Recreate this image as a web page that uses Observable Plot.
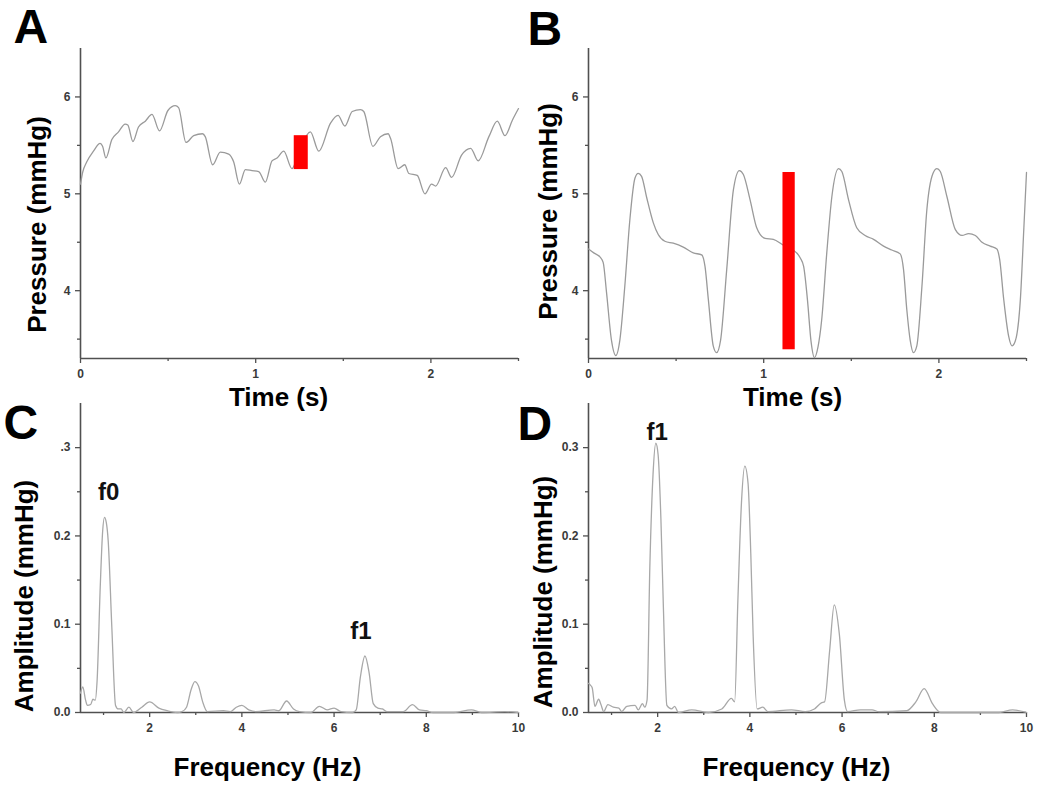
<!DOCTYPE html>
<html><head><meta charset="utf-8">
<script src="https://cdn.jsdelivr.net/npm/d3@7"></script>
<script src="https://cdn.jsdelivr.net/npm/@observablehq/plot@0.6"></script>
<style>
body{margin:0;background:#fff;}
#fig{position:relative;width:1050px;height:792px;overflow:hidden;background:#fff;}
#fig svg{position:absolute;}
</style></head><body><div id="fig"></div>
<script>
// ---------- Panel A: pressure vs time ----------
const timeA = [0, 0.012, 0.036, 0.074, 0.112, 0.126, 0.145, 0.179, 0.217, 0.255, 0.27, 0.299, 0.331, 0.37, 0.408, 0.451, 0.499, 0.541, 0.56, 0.602, 0.646, 0.697, 0.712, 0.754, 0.798, 0.846, 0.874, 0.907, 0.941, 0.979, 1.017, 1.055, 1.093, 1.122, 1.16, 1.207, 1.25, 1.312, 1.36, 1.427, 1.47, 1.509, 1.551, 1.598, 1.617, 1.669, 1.712, 1.756, 1.77, 1.813, 1.851, 1.874, 1.922, 1.966, 2.004, 2.027, 2.084, 2.118, 2.175, 2.227, 2.27, 2.331, 2.379, 2.423, 2.465, 2.5];
const pressureA = [5.10, 5.22, 5.33, 5.44, 5.52, 5.49, 5.37, 5.56, 5.64, 5.72, 5.71, 5.54, 5.69, 5.75, 5.82, 5.65, 5.86, 5.91, 5.89, 5.53, 5.60, 5.62, 5.59, 5.30, 5.43, 5.41, 5.33, 5.10, 5.25, 5.24, 5.23, 5.12, 5.34, 5.37, 5.44, 5.26, 5.45, 5.64, 5.44, 5.73, 5.81, 5.70, 5.85, 5.87, 5.85, 5.49, 5.59, 5.62, 5.57, 5.26, 5.30, 5.21, 5.19, 5.00, 5.10, 5.08, 5.27, 5.17, 5.40, 5.47, 5.34, 5.59, 5.75, 5.60, 5.76, 5.88];
const markerTimeA = [1.22, 1.30];
const markerPressureA = [5.25, 5.60];

// ---------- Panel B: pressure vs time ----------
const timeB = [0, 0.03, 0.065, 0.084, 0.103, 0.131, 0.156, 0.179, 0.207, 0.236, 0.265, 0.284, 0.303, 0.331, 0.37, 0.398, 0.436, 0.484, 0.541, 0.598, 0.646, 0.665, 0.684, 0.712, 0.731, 0.754, 0.789, 0.827, 0.861, 0.884, 0.922, 0.96, 1.008, 1.055, 1.113, 1.16, 1.208, 1.228, 1.25, 1.27, 1.29, 1.31, 1.331, 1.36, 1.389, 1.427, 1.446, 1.484, 1.531, 1.579, 1.627, 1.684, 1.731, 1.779, 1.798, 1.817, 1.836, 1.855, 1.874, 1.903, 1.931, 1.966, 1.989, 2.008, 2.046, 2.094, 2.132, 2.17, 2.208, 2.246, 2.293, 2.331, 2.347, 2.37, 2.398, 2.417, 2.436, 2.465, 2.485, 2.5];
const pressureB = [4.43, 4.39, 4.35, 4.29, 3.98, 3.49, 3.33, 3.49, 4.04, 4.73, 5.16, 5.21, 5.18, 4.97, 4.70, 4.58, 4.51, 4.49, 4.45, 4.39, 4.37, 4.25, 3.91, 3.43, 3.36, 3.49, 4.22, 5.04, 5.24, 5.20, 4.94, 4.65, 4.54, 4.53, 4.47, 4.43, 4.34, 4.25, 3.90, 3.48, 3.31, 3.42, 3.70, 4.39, 4.97, 5.26, 5.23, 4.94, 4.65, 4.57, 4.53, 4.46, 4.42, 4.38, 4.22, 3.80, 3.49, 3.36, 3.43, 4.04, 4.83, 5.21, 5.26, 5.23, 4.97, 4.63, 4.57, 4.59, 4.57, 4.50, 4.46, 4.43, 4.32, 3.91, 3.53, 3.43, 3.48, 3.91, 4.65, 5.22];
const markerTimeB = [1.11, 1.18];
const markerPressureB = [3.39, 5.22];

// ---------- Panel C: amplitude spectrum ----------
const freqC = [0.50, 0.55, 0.61, 0.65, 0.72, 0.77, 0.82, 0.86, 0.93, 0.98, 1.02, 1.06, 1.10, 1.18, 1.26, 1.32, 1.38, 1.44, 1.55, 1.65, 1.83, 2.00, 2.20, 2.38, 2.60, 2.70, 2.80, 2.90, 2.98, 3.06, 3.15, 3.25, 3.60, 3.75, 3.88, 4.00, 4.15, 4.30, 4.70, 4.80, 4.97, 5.12, 5.25, 5.50, 5.68, 5.85, 6.00, 6.15, 6.40, 6.48, 6.57, 6.67, 6.76, 6.85, 6.95, 7.05, 7.15, 7.50, 7.70, 7.85, 8.00, 8.15, 8.60, 8.98, 9.20, 9.70, 10.0];
const ampC = [0.022, 0.029, 0.014, 0.008, 0.009, 0.015, 0.014, 0.036, 0.145, 0.205, 0.221, 0.215, 0.195, 0.096, 0.008, 0.004, 0.004, 0.000, 0.006, 0.000, 0.006, 0.012, 0.005, 0.002, 0.000, 0.001, 0.006, 0.026, 0.035, 0.030, 0.012, 0.001, 0.002, 0.001, 0.006, 0.008, 0.003, 0.001, 0.003, 0.002, 0.013, 0.004, 0.001, 0.000, 0.007, 0.003, 0.005, 0.001, 0.000, 0.003, 0.040, 0.064, 0.045, 0.010, 0.005, 0.004, 0.001, 0.001, 0.009, 0.003, 0.002, 0.000, 0.000, 0.003, 0.000, 0.001, 0.000];
const peakLabelsC = ["f0", "f1"];
const peakFreqC = [1.11, 6.58];
const peakAmpC = [0.249, 0.092];

// ---------- Panel D: amplitude spectrum ----------
const freqD = [0.50, 0.54, 0.58, 0.64, 0.72, 0.77, 0.83, 0.92, 1.04, 1.16, 1.22, 1.33, 1.51, 1.58, 1.67, 1.72, 1.77, 1.83, 1.90, 1.96, 2.01, 2.07, 2.12, 2.20, 2.30, 2.37, 2.45, 2.74, 3.10, 3.39, 3.60, 3.67, 3.74, 3.82, 3.89, 3.96, 4.02, 4.07, 4.16, 4.28, 4.39, 4.90, 5.20, 5.40, 5.55, 5.62, 5.73, 5.83, 5.94, 6.05, 6.12, 6.40, 6.65, 6.80, 7.40, 7.60, 7.78, 7.96, 8.14, 9.40, 9.70, 10.0];
const ampD = [0.033, 0.031, 0.028, 0.007, 0.015, 0.009, 0.001, 0.009, 0.006, 0.005, 0.001, 0.007, 0.008, 0.003, 0.010, 0.006, 0.014, 0.164, 0.270, 0.305, 0.292, 0.220, 0.127, 0.008, 0.004, 0.007, 0.000, 0.003, 0.000, 0.004, 0.016, 0.012, 0.127, 0.240, 0.279, 0.260, 0.180, 0.089, 0.004, 0.006, 0.001, 0.003, 0.001, 0.004, 0.011, 0.012, 0.070, 0.122, 0.089, 0.014, 0.001, 0.003, 0.003, 0.001, 0.002, 0.012, 0.027, 0.010, 0.000, 0.000, 0.003, 0.000];
const peakLabelsD = ["f1"];
const peakFreqD = [1.99];
const peakAmpD = [0.317];

// ---------- axis ticks ----------
const timeTicks = [0, 1, 2];
const timeMinor = [0.5, 1.5, 2.5];
const pressureTicks = [4, 5, 6];
const pressureMinor = [3.5, 4.5, 5.5];
const freqTicks = [2, 4, 6, 8, 10];
const freqMinor = [1, 3, 5, 7, 9];
const ampTicks = [0, 0.1, 0.2, 0.3];
const ampMinor = [0.05, 0.15, 0.25];

const FONT = "'Liberation Sans', Arial, Helvetica, sans-serif";
const AXIS = "#505050";
const TICKTXT = "#3a3a3a";
const fig = document.getElementById("fig");

function panel(o) {
  const rows = o.xs.map((x, i) => ({x, y: o.ys[i]}));
  const marks = [
    Plot.axisX({ticks: o.xTicks, tickSize: 5, tickPadding: 6, tickFormat: o.xFormat, label: null, stroke: AXIS, fill: TICKTXT, strokeWidth: 1.3, fontSize: 12, fontWeight: "bold"}),
    Plot.axisX({ticks: o.xMinor, tickSize: 3, tickFormat: () => "", label: null, stroke: AXIS, strokeWidth: 1.3}),
    Plot.axisY({ticks: o.yTicks, tickSize: 5, tickPadding: 5, tickFormat: o.yFormat, label: null, stroke: AXIS, fill: TICKTXT, strokeWidth: 1.3, fontSize: 12, fontWeight: "bold"}),
    Plot.axisY({ticks: o.yMinor, tickSize: 3, tickFormat: () => "", label: null, stroke: AXIS, strokeWidth: 1.3}),
    Plot.ruleX([o.xDomain[0]], {stroke: AXIS, strokeWidth: 1.6}),
    Plot.ruleY([o.yDomain[0]], {stroke: AXIS, strokeWidth: 1.6}),
    Plot.line(rows, {x: "x", y: "y", stroke: o.lineColor, strokeWidth: 1.3, curve: "monotone-x"})
  ];
  if (o.marker) {
    marks.push(Plot.rect([o.marker], {x1: d => d.x[0], x2: d => d.x[1], y1: d => d.y[0], y2: d => d.y[1], fill: "#ff0000"}));
  }
  if (o.peaks) {
    const pk = o.peaks.text.map((t, i) => ({t, x: o.peaks.x[i], y: o.peaks.y[i]}));
    marks.push(Plot.text(pk, {x: "x", y: "y", text: "t", fontSize: 24, fontWeight: "bold", fill: "#111"}));
  }
  marks.push(
    Plot.text([o.letter], {text: d => d, frameAnchor: "top-left", dx: o.letterPos[0], dy: o.letterPos[1], textAnchor: "start", lineAnchor: "top", fontSize: 48, fontWeight: "bold", fill: "#000"}),
    Plot.text([o.xTitle], {text: d => d, frameAnchor: "bottom", dx: o.xTitlePos[0], dy: o.xTitlePos[1], textAnchor: "middle", lineAnchor: "middle", fontSize: 26, fontWeight: "bold", fill: "#000"}),
    Plot.text([o.yTitle], {text: d => d, frameAnchor: "left", rotate: -90, dx: o.yTitlePos[0], dy: o.yTitlePos[1], textAnchor: "middle", lineAnchor: "middle", fontSize: 26, fontWeight: "bold", fill: "#000"})
  );
  const svg = Plot.plot({
    width: o.width, height: o.height,
    marginLeft: o.m[0], marginRight: o.m[1], marginTop: o.m[2], marginBottom: o.m[3],
    style: {fontFamily: FONT, fontSize: "12px", background: "transparent", overflow: "visible"},
    x: {domain: o.xDomain},
    y: {domain: o.yDomain},
    marks
  });
  svg.style.left = o.left + "px";
  svg.style.top = o.top + "px";
  fig.append(svg);
}

const intFmt = d => String(d);
const ampFmt = d3.format(".1f");

panel({
  left: 0, top: 0, width: 525, height: 420, m: [80, 7, 48, 62],
  xs: timeA, ys: pressureA, xDomain: [0, 2.5], yDomain: [3.3, 6.5],
  xTicks: timeTicks, xMinor: timeMinor, yTicks: pressureTicks, yMinor: pressureMinor,
  xFormat: intFmt, yFormat: intFmt, lineColor: "#9a9a9a",
  marker: {x: markerTimeA, y: markerPressureA},
  letter: "A", letterPos: [-67, -40],
  xTitle: "Time (s)", xTitlePos: [-21, 39],
  yTitle: "Pressure (mmHg)", yTitlePos: [-43, 21]
});

panel({
  left: 525, top: 0, width: 525, height: 420, m: [63, 24, 48, 62],
  xs: timeB, ys: pressureB, xDomain: [0, 2.5], yDomain: [3.3, 6.5],
  xTicks: timeTicks, xMinor: timeMinor, yTicks: pressureTicks, yMinor: pressureMinor,
  xFormat: intFmt, yFormat: intFmt, lineColor: "#9a9a9a",
  marker: {x: markerTimeB, y: markerPressureB},
  letter: "B", letterPos: [-61, -38],
  xTitle: "Time (s)", xTitlePos: [-15, 39],
  yTitle: "Pressure (mmHg)", yTitlePos: [-40, 8]
});

panel({
  left: 0, top: 390, width: 525, height: 402, m: [80, 7, 13, 80],
  xs: freqC, ys: ampC, xDomain: [0.5, 10], yDomain: [0, 0.35],
  xTicks: freqTicks, xMinor: freqMinor, yTicks: ampTicks, yMinor: ampMinor,
  xFormat: intFmt, yFormat: d => d === 0.3 ? ".3" : ampFmt(d), lineColor: "#a8a8a8",
  peaks: {text: peakLabelsC, x: peakFreqC, y: peakAmpC},
  letter: "C", letterPos: [-77, 1],
  xTitle: "Frequency (Hz)", xTitlePos: [-32, 55],
  yTitle: "Amplitude (mmHg)", yTitlePos: [-56, 38]
});

panel({
  left: 525, top: 390, width: 525, height: 402, m: [63, 24, 13, 80],
  xs: freqD, ys: ampD, xDomain: [0.5, 10], yDomain: [0, 0.35],
  xTicks: freqTicks, xMinor: freqMinor, yTicks: ampTicks, yMinor: ampMinor,
  xFormat: intFmt, yFormat: ampFmt, lineColor: "#a8a8a8",
  peaks: {text: peakLabelsD, x: peakFreqD, y: peakAmpD},
  letter: "D", letterPos: [-71, 2],
  xTitle: "Frequency (Hz)", xTitlePos: [-11, 55],
  yTitle: "Amplitude (mmHg)", yTitlePos: [-45, 34]
});
</script>
</body></html>
